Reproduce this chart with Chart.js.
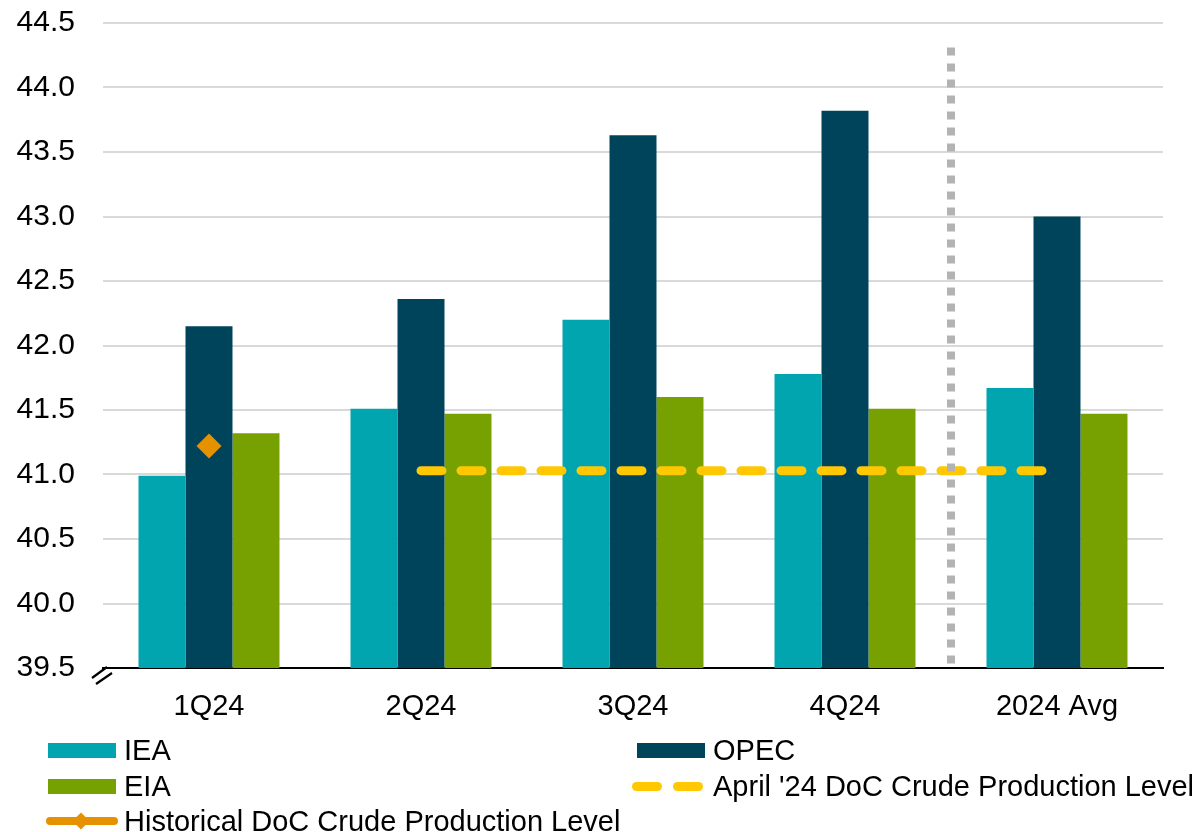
<!DOCTYPE html>
<html>
<head>
<meta charset="utf-8">
<script src="https://cdn.jsdelivr.net/npm/chart.js@4.4.1/dist/chart.umd.min.js"></script>
<style>
  body { margin: 0; background: #fff; font-family: 'Liberation Sans', Arial, sans-serif; }
  #wrap { position: relative; width: 1204px; height: 832px; overflow: hidden; }
  #wrap canvas { position: absolute; left: 0; top: 0; }
  .lg-text { position: absolute; font-size: 29px; line-height: 36px; color: #000; white-space: nowrap; }
  .sw { position: absolute; }
</style>
</head>
<body>
<div id="wrap">
  <canvas id="prodChart" width="1204" height="832"></canvas>

  <div class="sw" style="left:48px;top:743px;width:68px;height:15px;background:#00A5B0"></div>
  <div class="lg-text" style="left:124px;top:732px">IEA</div>

  <div class="sw" style="left:637px;top:743px;width:68px;height:15px;background:#00445C"></div>
  <div class="lg-text" style="left:713px;top:732px">OPEC</div>

  <div class="sw" style="left:48px;top:779px;width:68px;height:15px;background:#76A100"></div>
  <div class="lg-text" style="left:124px;top:768px">EIA</div>

  <div class="sw" style="left:632px;top:782px;width:30px;height:9px;border-radius:5px;background:#FFC800"></div>
  <div class="sw" style="left:673px;top:782px;width:30px;height:9px;border-radius:5px;background:#FFC800"></div>
  <div class="lg-text" style="left:713px;top:768px">April '24 DoC Crude Production Level</div>

  <div class="sw" style="left:46px;top:817px;width:72px;height:8px;border-radius:4px;background:#E69100"></div>
  <div class="sw" style="left:75px;top:815px;width:12px;height:12px;background:#E69100;transform:rotate(45deg)"></div>
  <div class="lg-text" style="left:124px;top:803px">Historical DoC Crude Production Level</div>
</div>

<script>
// categories and series
const categories = ['1Q24', '2Q24', '3Q24', '4Q24', '2024 Avg'];
const ieaValues  = [40.99, 41.51, 42.20, 41.78, 41.67];
const opecValues = [42.15, 42.36, 43.63, 43.82, 43.00];
const eiaValues  = [41.32, 41.47, 41.60, 41.51, 41.47];
const aprilDocLevel = [null, 41.03, 41.03, 41.03, 41.03];
const historicalDoc = [41.22, null, null, null, null];

// y axis ticks
const yMin = 39.5;
const yMax = 44.5;
const yStep = 0.5;

// dotted separator between the quarters and the yearly average
const separatorPlugin = {
  id: 'separator',
  afterDatasetsDraw(chart) {
    const x = chart.scales.x;
    const y = chart.scales.y;
    const px = (x.getPixelForValue(3) + x.getPixelForValue(4)) / 2;
    const ctx = chart.ctx;
    ctx.save();
    ctx.strokeStyle = '#B3B3B3';
    ctx.lineWidth = 8;
    ctx.setLineDash([8, 8]);
    ctx.beginPath();
    ctx.moveTo(px, y.getPixelForValue(44.31));
    ctx.lineTo(px, chart.chartArea.bottom);
    ctx.stroke();
    ctx.restore();
  }
};

// the little "//" axis break at the bottom left
const axisBreakPlugin = {
  id: 'axisBreak',
  afterDraw(chart) {
    const ctx = chart.ctx;
    const left = chart.chartArea.left;
    const bottom = chart.chartArea.bottom;
    ctx.save();
    ctx.strokeStyle = '#000';
    ctx.lineWidth = 2.2;
    ctx.beginPath();
    ctx.moveTo(left - 11, bottom + 10);
    ctx.lineTo(left + 4, bottom - 1);
    ctx.moveTo(left - 7, bottom + 16);
    ctx.lineTo(left + 9, bottom + 5);
    ctx.stroke();
    ctx.restore();
  }
};

const ctx = document.getElementById('prodChart').getContext('2d');

new Chart(ctx, {
  type: 'bar',
  data: {
    labels: categories,
    datasets: [
      {
        type: 'line',
        label: "April '24 DoC Crude Production Level",
        data: aprilDocLevel,
        borderColor: '#FFC800',
        borderWidth: 9,
        borderDash: [21, 19],
        borderCapStyle: 'round',
        pointRadius: 0,
        fill: false,
        order: 0
      },
      {
        type: 'line',
        label: 'Historical DoC Crude Production Level',
        data: historicalDoc,
        borderColor: '#E69100',
        backgroundColor: '#E69100',
        pointStyle: 'rectRot',
        pointRadius: 12.5,
        pointBorderWidth: 0,
        showLine: false,
        order: 0
      },
      { label: 'IEA',  data: ieaValues,  backgroundColor: '#00A5B0', order: 1 },
      { label: 'OPEC', data: opecValues, backgroundColor: '#00445C', order: 1 },
      { label: 'EIA',  data: eiaValues,  backgroundColor: '#76A100', order: 1 }
    ]
  },
  options: {
    responsive: false,
    animation: false,
    categoryPercentage: 0.665,
    barPercentage: 1,
    layout: { padding: { left: 0, right: 41, top: 23, bottom: 0 } },
    plugins: {
      legend: { display: false },
      tooltip: { enabled: false }
    },
    scales: {
      x: {
        grid: { display: false },
        border: { display: true, color: '#000', width: 2 },
        ticks: {
          color: '#000',
          font: { family: "'Liberation Sans', Arial, sans-serif", size: 29 },
          padding: 14
        },
        afterFit(scale) {
          scale.height = 832 - 668;
          scale.paddingLeft = 0;
          scale.paddingRight = 0;
        }
      },
      y: {
        min: yMin,
        max: yMax,
        border: { display: false },
        grid: {
          drawTicks: false,
          lineWidth: 2,
          color: c => (c.tick && c.tick.value === yMin ? 'rgba(0,0,0,0)' : '#D9D9D9')
        },
        ticks: {
          stepSize: yStep,
          color: '#000',
          padding: 28,
          font: { family: "'Liberation Sans', Arial, sans-serif", size: 30 },
          callback: v => Number(v).toFixed(1)
        },
        afterFit(scale) {
          scale.width = 103;
          scale.paddingTop = 0;
          scale.paddingBottom = 0;
        }
      }
    }
  },
  plugins: [separatorPlugin, axisBreakPlugin]
});
</script>
</body>
</html>
